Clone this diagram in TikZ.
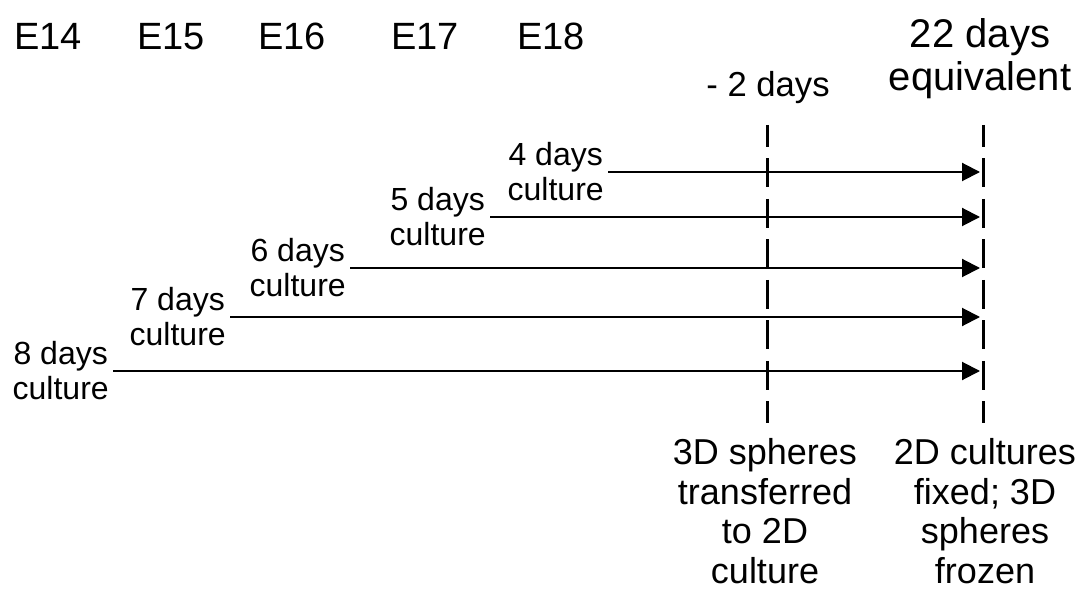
\documentclass[tikz,border=0pt]{standalone}
\usepackage{fontspec}
\setmainfont{Liberation Sans}
\usetikzlibrary{arrows.meta}

\begin{document}
\begin{tikzpicture}[x=0.75pt, y=-0.75pt,
  stage/.style={font=\fontsize{28.5}{32}\selectfont, anchor=base, inner sep=0pt},
  culture/.style={font=\fontsize{24}{26.25}\selectfont, align=center, anchor=east, inner sep=3pt},
  event/.style={font=\fontsize{27}{29.6}\selectfont, align=center, inner sep=0pt},
  timeline/.style={line width=2.25pt, dash pattern=on 21.75pt off 8.6pt, dash phase=5.25pt},
  dayarrow/.style={line width=1.5pt, -{Triangle[length=13.5pt, width=13.5pt]}}]
  \useasboundingbox (0,0) rectangle (1080,591);
  \foreach \x/\e in {48/E14,171/E15,292/E16,425/E17,551/E18}
    \node[stage] (\e) at (\x,50) {\e};
  \node[stage, font=\fontsize{30}{32.25}\selectfont, align=center, anchor=center] (equiv) at (980,59) {22 days\\equivalent};
  \node[stage, font=\fontsize{26}{30}\selectfont] (minus) at (768,97) {- 2 days};
  \coordinate (transTop) at (767,125);
  \coordinate (transBot) at (767,423);
  \coordinate (fixTop) at (983,125);
  \coordinate (fixBot) at (983,423);
  \draw[timeline] (transTop) -- (transBot);
  \draw[timeline] (fixTop) -- (fixBot);
  \foreach \n/\x/\y in {4/608/172,5/490/217,6/350/268,7/230/317,8/113/371}{
    \node[culture] (day\n) at (\x,\y) {\n{} days\\culture};
    \coordinate (end\n) at (980,\y);
    \draw[dayarrow] (day\n) -- (end\n);
  }
  \node[event] (transfer) at (765,511) {3D spheres\\transferred\\to 2D\\culture};
  \node[event] (fixed) at (985,511) {2D cultures\\fixed; 3D\\spheres\\frozen};
\end{tikzpicture}
\end{document}
